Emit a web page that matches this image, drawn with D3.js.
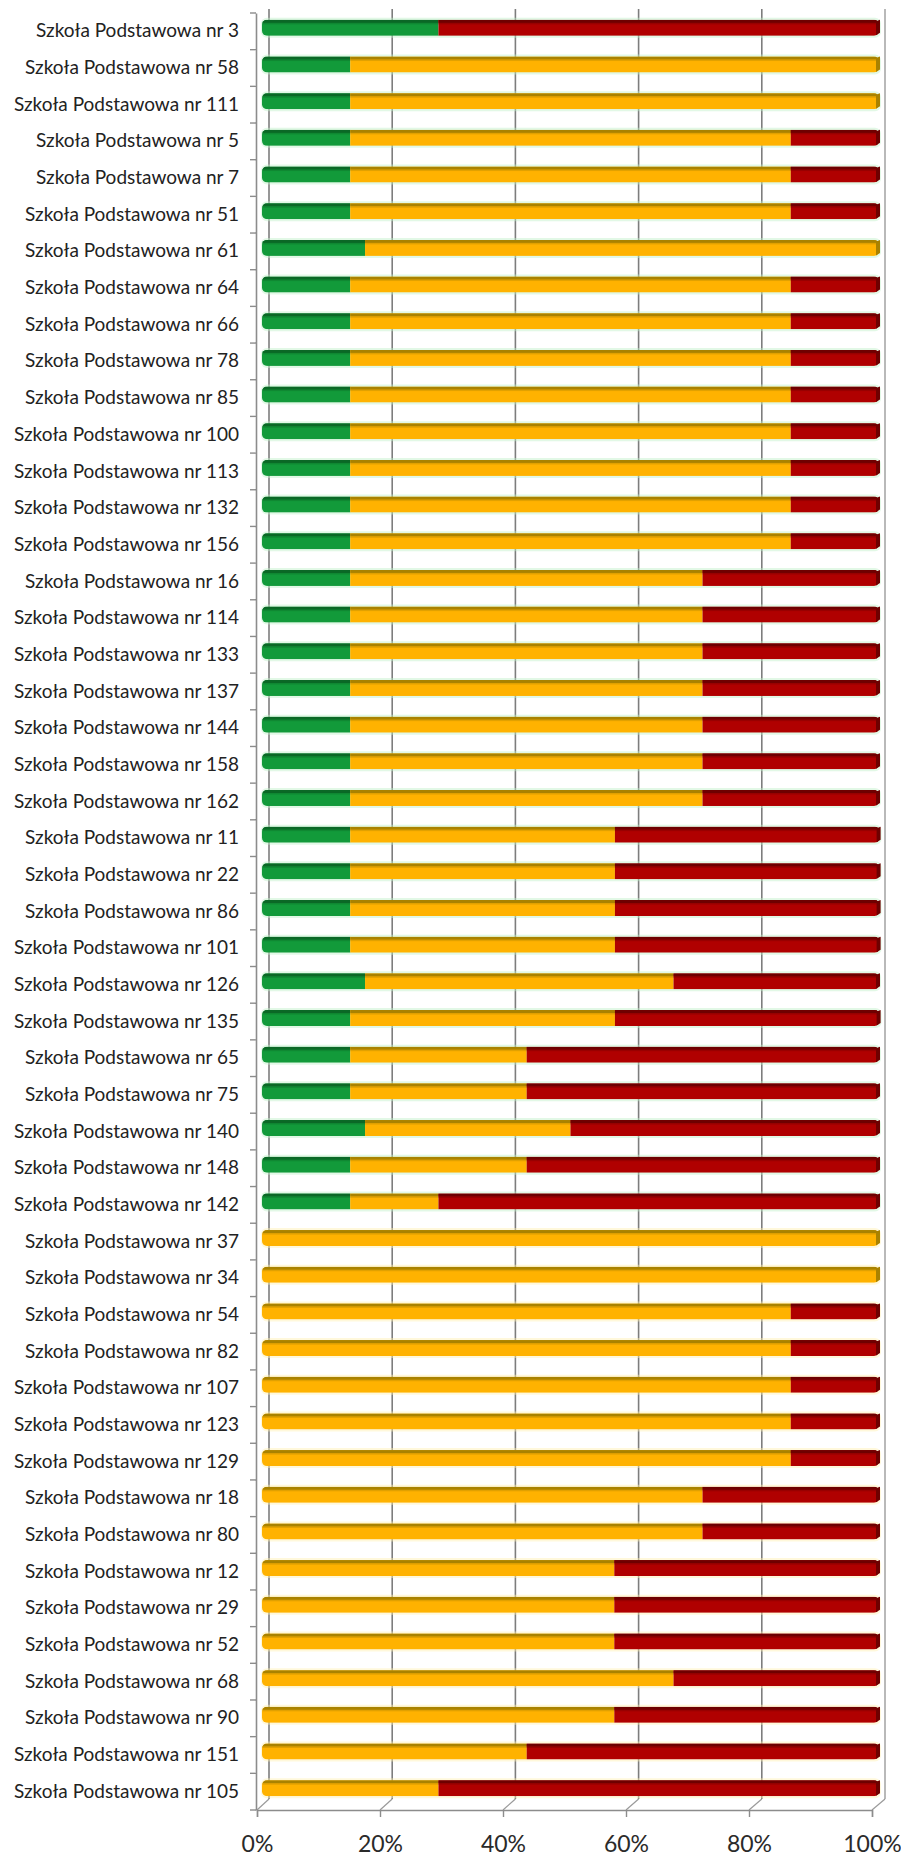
<!DOCTYPE html>
<html><head><meta charset="utf-8">
<script src="https://cdn.jsdelivr.net/npm/d3@7"></script>
<style>body{margin:0;background:#fff}svg{display:block}</style>
</head><body>
<svg id="c" width="901" height="1856"></svg>
<script>
const categories = ["Szkoła Podstawowa nr 3","Szkoła Podstawowa nr 58","Szkoła Podstawowa nr 111","Szkoła Podstawowa nr 5","Szkoła Podstawowa nr 7","Szkoła Podstawowa nr 51","Szkoła Podstawowa nr 61","Szkoła Podstawowa nr 64","Szkoła Podstawowa nr 66","Szkoła Podstawowa nr 78","Szkoła Podstawowa nr 85","Szkoła Podstawowa nr 100","Szkoła Podstawowa nr 113","Szkoła Podstawowa nr 132","Szkoła Podstawowa nr 156","Szkoła Podstawowa nr 16","Szkoła Podstawowa nr 114","Szkoła Podstawowa nr 133","Szkoła Podstawowa nr 137","Szkoła Podstawowa nr 144","Szkoła Podstawowa nr 158","Szkoła Podstawowa nr 162","Szkoła Podstawowa nr 11","Szkoła Podstawowa nr 22","Szkoła Podstawowa nr 86","Szkoła Podstawowa nr 101","Szkoła Podstawowa nr 126","Szkoła Podstawowa nr 135","Szkoła Podstawowa nr 65","Szkoła Podstawowa nr 75","Szkoła Podstawowa nr 140","Szkoła Podstawowa nr 148","Szkoła Podstawowa nr 142","Szkoła Podstawowa nr 37","Szkoła Podstawowa nr 34","Szkoła Podstawowa nr 54","Szkoła Podstawowa nr 82","Szkoła Podstawowa nr 107","Szkoła Podstawowa nr 123","Szkoła Podstawowa nr 129","Szkoła Podstawowa nr 18","Szkoła Podstawowa nr 80","Szkoła Podstawowa nr 12","Szkoła Podstawowa nr 29","Szkoła Podstawowa nr 52","Szkoła Podstawowa nr 68","Szkoła Podstawowa nr 90","Szkoła Podstawowa nr 151","Szkoła Podstawowa nr 105"];
const greenValues = [28.6,14.3,14.3,14.3,14.3,14.3,16.7,14.3,14.3,14.3,14.3,14.3,14.3,14.3,14.3,14.3,14.3,14.3,14.3,14.3,14.3,14.3,14.3,14.3,14.3,14.3,16.7,14.3,14.3,14.3,16.7,14.3,14.3,0,0,0,0,0,0,0,0,0,0,0,0,0,0,0,0];
const orangeValues = [0,85.7,85.7,71.4,71.4,71.4,83.3,71.4,71.4,71.4,71.4,71.4,71.4,71.4,71.4,57.1,57.1,57.1,57.1,57.1,57.1,57.1,42.9,42.9,42.9,42.9,50,42.9,28.6,28.6,33.3,28.6,14.3,100,100,85.7,85.7,85.7,85.7,85.7,71.4,71.4,57.1,57.1,57.1,66.7,57.1,42.9,28.6];
const redValues = [71.4,0,0,14.3,14.3,14.3,0,14.3,14.3,14.3,14.3,14.3,14.3,14.3,14.3,28.6,28.6,28.6,28.6,28.6,28.6,28.6,42.9,42.9,42.9,42.9,33.3,42.9,57.1,57.1,50,57.1,71.4,0,0,14.3,14.3,14.3,14.3,14.3,28.6,28.6,42.9,42.9,42.9,33.3,42.9,57.1,71.4];
const tickValues = [0,20,40,60,80,100];
const tickLabels = ["0%","20%","40%","60%","80%","100%"];

const series = [
  {vals: greenValues, main:"#129a3a", top:"#0b6826", glow:"#bff0c8"},
  {vals: orangeValues, main:"#ffb200", top:"#a98200", glow:"#fff0b0"},
  {vals: redValues, main:"#b00000", top:"#6e0000", glow:"#ffd0d0"}
];

const svg = d3.select("#c");
const front = {x0:257, x1:872, yTop:13, yBot:1810};
const depth = {dx:12, dy:-11};
const xFront = d3.scaleLinear().domain([0,100]).range([front.x0, front.x1]);
const xBack = d3.scaleLinear().domain([0,100]).range([front.x0+depth.dx, front.x1+depth.dx+1]);
const xBar = d3.scaleLinear().domain([0,100]).range([262, 879]);
const y = d3.scaleBand().domain(categories).range([front.yTop, front.yBot]).padding(0);
const backTop = 9, backBot = front.yBot + depth.dy;
const gridColor = "#7d7d7d";

svg.append("g").selectAll("line").data(tickValues).join("line")
  .attr("x1", d=>xBack(d)).attr("x2", d=>xBack(d))
  .attr("y1", backTop).attr("y2", backBot)
  .attr("stroke", (d,i)=> i===tickValues.length-1 ? "#a8a8a8" : gridColor)
  .attr("stroke-width", 1.6);
svg.append("g").selectAll("line").data(tickValues).join("line")
  .attr("x1", d=>xFront(d)).attr("y1", front.yBot)
  .attr("x2", d=>xBack(d)).attr("y2", backBot)
  .attr("stroke", "#9a9a9a").attr("stroke-width", 1.2);

const xAxis = d3.axisBottom(xFront).tickValues(tickValues).tickFormat((d,i)=>tickLabels[i]).tickSize(7).tickPadding(19);
const gx = svg.append("g").attr("transform", `translate(0,${front.yBot})`).call(xAxis);
gx.select(".domain").attr("stroke", "#8c8c8c").attr("stroke-width", 1.4);
gx.selectAll(".tick line").attr("stroke", "#8c8c8c").attr("stroke-width", 1.4);
gx.selectAll(".tick text").attr("font-family", "Lato, 'Open Sans', sans-serif").attr("font-size", 23).attr("fill", "#2a2a2a");

const yAxis = d3.axisLeft(y).tickSize(0).tickPadding(17);
const gy = svg.append("g").attr("transform", `translate(${front.x0-1},0)`).call(yAxis);
gy.select(".domain").attr("stroke", "#8c8c8c").attr("stroke-width", 1.6);
gy.selectAll(".tick text").attr("font-family", "Lato, 'Open Sans', sans-serif").attr("font-size", 19)
  .attr("fill", "#222");
const bounds = categories.map(c=>y(c)).concat([front.yBot]);
svg.append("g").selectAll("line").data(bounds).join("line")
  .attr("x1", front.x0-7).attr("x2", front.x0-1)
  .attr("y1", d=>d).attr("y2", d=>d)
  .attr("stroke", "#8c8c8c").attr("stroke-width", 1.4);

const barH = 16, shift = -3.5;
const defs = svg.append("defs");
const rows = categories.map((c,i)=>{
  let acc = 0;
  const segs = series.map(s=>{ const v = s.vals[i]; const seg = {s, a:acc, b:acc+v}; acc += v; return seg; }).filter(g=>g.b-g.a>0);
  return {c, i, segs, total: acc};
});
const gb = svg.append("g");
rows.forEach(r=>{
  const cy = y(r.c) + y.bandwidth()/2 + shift;
  const top = cy - barH/2;
  const xs = xBar(0), xe = xBar(r.total);
  const id = "clip"+r.i;
  defs.append("clipPath").attr("id", id).append("rect")
    .attr("x", xs).attr("y", top).attr("width", xe-xs).attr("height", barH).attr("rx", 5).attr("ry", 5);
  gb.append("rect").attr("x", xs-1).attr("y", top-2).attr("width", xe-xs+3).attr("height", barH+4)
    .attr("rx", 6).attr("fill", r.segs[0].s.glow).attr("opacity", 0.45);
  const g = gb.append("g").attr("clip-path", `url(#${id})`);
  r.segs.forEach(sg=>{
    const x0 = xBar(sg.a), x1 = xBar(sg.b);
    g.append("rect").attr("x", x0).attr("y", top).attr("width", x1-x0).attr("height", barH).attr("fill", sg.s.main);
    g.append("rect").attr("x", x0).attr("y", top).attr("width", x1-x0).attr("height", 3).attr("fill", sg.s.top);
    g.append("rect").attr("x", x0).attr("y", top+3).attr("width", x1-x0).attr("height", 1.5).attr("fill", sg.s.top).attr("opacity", 0.35);
  });
  const last = r.segs[r.segs.length-1].s;
  gb.append("path")
    .attr("d", `M${xe-3},${top+1.5} L${xe+1},${top} L${xe+1},${top+barH-3} L${xe-3},${top+barH-0.5} Z`)
    .attr("fill", last.top);
});
</script>
</body></html>
